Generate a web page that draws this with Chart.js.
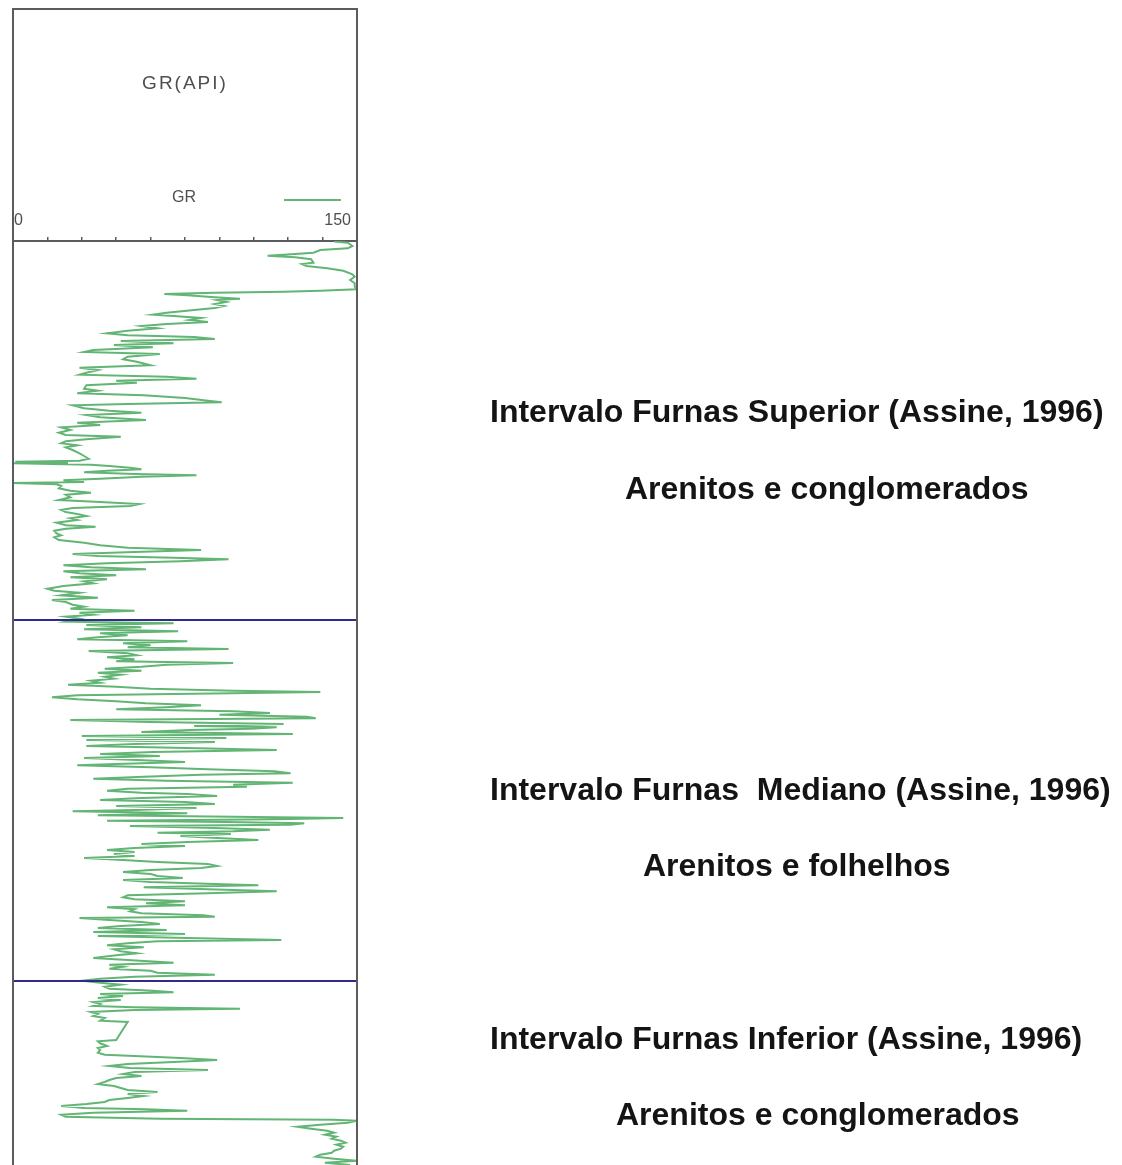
<!DOCTYPE html>
<html>
<head>
<meta charset="utf-8">
<title>GR – Intervalos Furnas</title>
<script src="https://cdn.jsdelivr.net/npm/chart.js@4.4.1/dist/chart.umd.min.js"></script>
<style>
  html, body { margin: 0; padding: 0; background: #ffffff; }
  #wrap { position: relative; width: 1122px; height: 1165px; overflow: hidden; }
  canvas { display: block; }
</style>
</head>
<body>
<div id="wrap"><canvas id="log" width="1122" height="1165"></canvas></div>
<script>
// ---- Gamma-ray log (API), depth in relative units from the top of the track ----
// Upper interval (Furnas Superior)
const upperDepth = [0.5,1.7,5,7.3,9,11.7,13,14.7,16.3,18.3,21.7,23,25,27.3,29.7,33.3,35.7,39,42.3,45.7,48.3,49.7,50.7,51.7,53,54.3,56.3,57.7,59,61,63,65,67,69,71.7,73.7,75,77,79,81,83,85,87.3,89.7,92.3,94.3,96,98,100,102.3,104,106.3,109,111,113,115.7,118.3,120.7,124.3,126.7,129,131.7,133.7,135.7,137.7,139.7,141.7,144.3,147.7,149.7,152.3,154.3,157,159.7,161.3,163,164.3,167.3,169.7,171.7,174,176.3,179,
  181.7,184,186.3,189,191.7,194,195.7,198.3,200.3,202.3,204.3,206.3,209,212.3,215,217.7,219.7,220.7,221.7,222.3,223.7,225,226.7,228.3,229.7,231.3,233,234.3,235.7,237.7,239.3,241,242,243.3,245,247.3,249.7,251.7,253.7,256.3,259,261,263,265,267,269,271,273,275,277.3,279,281.7,284.3,285.7,287.7,289.7,292.3,294.3,296.3,299,301.7,304.3,306.7,309,311,313,315,316.7,318.3,320.3,322.3,324.3,326.3,328.3,330.3,332.3,334.3,336.3,338.3,340.3,342.3,345,347.7,349.7,351.7,354.3,356.7,359,361,363.7,365.7,367.7,369.7,371.7,373.7,375.7,377.7];
const upperGR = [140,146,148,146,134,131,123,111,123,130,131,126,128,137,144,148,149,147,149,149,150,134,118,88,66,76,88,99,89,93,88,92,88,79,67,61,70,82,77,85,67,56,63,50,41,50,79,88,47,70,44,61,35,31,64,50,48,54,60,29,37,32,29,67,80,45,54,32,31,37,28,57,75,85,91,50,26,31,42,56,32,38,58,
  28,38,21,25,20,23,47,32,23,21,28,23,26,29,31,33,29,1,24,0,34,42,51,56,41,31,53,80,56,38,22,31,0,19,21,20,25,34,23,25,20,38,55,51,26,21,23,28,32,25,28,19,23,36,23,18,19,21,18,20,31,38,50,82,53,26,37,70,94,73,41,22,34,58,22,29,45,25,41,31,35,22,15,18,29,21,37,17,23,26,31,25,53,29,35,23,29];

// Middle interval (Furnas Mediano)
const middleDepth = [380.7,382.3,384,386.3,388.3,390.3,392.3,394.3,396.3,398.3,400.3,402.3,404.3,406.3,408,410,412.3,414.3,416.3,418.3,420.3,422,423.7,425.7,427.7,429.7,431.7,433.7,435.7,437.7,439.7,441.7,443.7,445.7,447.7,449.7,451,452.3,454.3,456.3,458.3,460.3,462.3,464.3,466.3,468.3,470.3,472,473.7,475.7,477.3,479,481,483,485,486.3,487.7,489,491,493,495,497,499,501,503,505,507,509,511,513,515,517,519,521,523,524.3,526.3,528.3,530.3,532.3,533.7,535.7,537.7,539.7,541.7,543.7,545.7,547.7,549.7,551.7,553,555,557,559,
  561,563,565,567,569,570.3,572.3,574.3,575.7,577,578.3,579.7,581,582.3,583.7,585,587,588.7,590.3,591.7,593,595,597,599,601,603,605,607,609,611,613,615,617,619,621,623,625,627,629,631,633,635,637,639,641,643,644.3,646.3,648.3,650.3,652.3,654.3,656.3,658.3,660.3,662.3,664.3,666.3,668.3,670.3,672.3,674.3,675.7,677,679,681,683,685,687,689,691,693,695,697,699,700.3,702.3,704.3,706.3,708.3,710.3,712.3,714.3,717,719,721.7,723.7,725.7,727.7,729.7,731.7,733.7,735.7,737.7,739.7];
const middleGR = [23,70,32,56,31,72,38,50,37,28,76,48,60,50,94,33,50,54,41,53,45,96,67,56,40,56,37,47,40,44,34,38,24,45,60,96,134,95,28,17,28,45,58,82,67,45,96,112,90,128,132,25,60,118,79,115,104,77,56,122,30,93,32,88,53,32,76,115,61,38,64,31,54,75,45,28,60,85,114,121,82,57,35,67,122,96,102,50,41,56,76,89,56,38,
  75,88,45,80,53,26,76,37,96,144,114,41,93,127,121,51,88,112,96,63,95,73,89,107,76,56,75,53,41,53,44,53,31,48,63,85,89,82,60,48,60,63,74,48,60,88,107,57,85,115,85,50,48,53,75,58,75,41,53,51,56,83,88,29,42,56,64,47,37,67,35,75,37,76,117,63,50,41,57,44,47,54,45,35,50,70,42,48,42,60,63,88,53,38,30];

// Lower interval (Furnas Inferior)
const lowerDepth = [741.7,743.7,745.7,747.7,749.7,751.3,753,755,757,759,761,763,765,766.3,767.7,769,771,773,775,777,779.7,781,799,800.3,802.3,805,807,809,811.7,813.7,815,817,819,821,823,825,827,829,831,833,835,837,839,841,843,845,847,849,851,853,855,857,859,861,863,865,867,868.3,869.7,871.7,873.7,875.7,877.7,878.7,879.7,881.7,883.7,885.7,887.7,889.7,891.7,893.7,895.7,897.7,899.7,901.7,903.7,905.7,907.7,909.7,911.7,913.7,915.7,917.7,919.7,921.7,924];
const lowerGR = [38,47,40,42,61,70,38,48,37,47,35,38,35,53,99,53,34,37,35,40,38,50,45,37,38,41,37,38,37,40,53,73,89,70,50,42,51,85,53,48,56,45,42,40,37,44,47,50,63,50,57,50,42,40,32,21,31,58,76,35,21,23,64,140,150,146,134,124,130,137,140,136,141,139,143,145,141,144,143,140,139,134,132,140,150,136,147];

// Interval tops (same depth units) and track scale
const intervalTops = [379, 740];
const grScale = [0, 150];
const depthRange = [0, 924];

// Texts
const trackTitle = 'GR(API)';
const curveName = 'GR';
const intervalNames = [
  'Intervalo Furnas Superior (Assine, 1996)',
  'Intervalo Furnas  Mediano (Assine, 1996)',
  'Intervalo Furnas Inferior (Assine, 1996)'
];
const intervalLithology = [
  'Arenitos e conglomerados',
  'Arenitos e folhelhos',
  'Arenitos e conglomerados'
];

// ---- build datasets ----
const allDepth = upperDepth.concat(middleDepth, lowerDepth);
const allGR = upperGR.concat(middleGR, lowerGR);
const grPoints = allDepth.map((d, i) => ({ x: allGR[i], y: d }));

const CURVE_COLOR = '#62b574';
const TOP_COLOR = '#302b8a';
const FRAME_COLOR = '#5c5c5c';
const HEADER_TEXT = '#4f4f4f';

const topDatasets = intervalTops.map(t => ({
  label: 'topo',
  data: [{ x: grScale[0], y: t }, { x: grScale[1], y: t }],
  showLine: true,
  borderColor: TOP_COLOR,
  borderWidth: 2.2,
  pointRadius: 0,
  order: 0
}));

// header, frame and interval descriptions
const logDecor = {
  id: 'logDecor',
  afterDraw(chart) {
    const { ctx, chartArea: a, scales } = chart;
    const xs = scales.x, ys = scales.y;
    const headerTop = 9;
    ctx.save();

    // track frame
    ctx.strokeStyle = FRAME_COLOR;
    ctx.lineWidth = 2;
    ctx.beginPath();
    ctx.moveTo(a.left, chart.height + 2);
    ctx.lineTo(a.left, headerTop);
    ctx.lineTo(a.right, headerTop);
    ctx.lineTo(a.right, chart.height + 2);
    ctx.stroke();

    const mid = (a.left + a.right) / 2;

    // track title
    ctx.fillStyle = HEADER_TEXT;
    ctx.textAlign = 'center';
    ctx.textBaseline = 'middle';
    ctx.font = '19px "Liberation Sans", Arial, sans-serif';
    if ('letterSpacing' in ctx) ctx.letterSpacing = '2px';
    ctx.fillText(trackTitle, mid, 84);
    if ('letterSpacing' in ctx) ctx.letterSpacing = '0px';

    // curve legend
    ctx.font = '16px "Liberation Sans", Arial, sans-serif';
    ctx.fillText(curveName, mid - 1, 198);
    ctx.strokeStyle = CURVE_COLOR;
    ctx.lineWidth = 1.8;
    ctx.beginPath();
    ctx.moveTo(284, 200);
    ctx.lineTo(341, 200);
    ctx.stroke();

    // scale ends
    ctx.fillStyle = HEADER_TEXT;
    ctx.textBaseline = 'middle';
    ctx.textAlign = 'left';
    ctx.fillText(String(grScale[0]), xs.getPixelForValue(grScale[0]) + 1, 221);
    ctx.textAlign = 'right';
    ctx.fillText(String(grScale[1]), xs.getPixelForValue(grScale[1]) - 6, 221);

    // interval descriptions
    ctx.fillStyle = '#141414';
    ctx.font = 'bold 32px "Liberation Sans", Arial, sans-serif';
    ctx.textAlign = 'left';
    ctx.textBaseline = 'alphabetic';
    const rows = [
      { t: intervalNames[0], x: 490, d: 169 },
      { t: intervalLithology[0], x: 625, d: 246 },
      { t: intervalNames[1], x: 490, d: 547 },
      { t: intervalLithology[1], x: 643, d: 623 },
      { t: intervalNames[2], x: 490, d: 796 },
      { t: intervalLithology[2], x: 616, d: 872 }
    ];
    rows.forEach(r => {
      ctx.fillText(r.t, r.x, ys.getPixelForValue(r.d) + 11.5);
    });
    ctx.restore();
  }
};

new Chart(document.getElementById('log'), {
  type: 'scatter',
  data: {
    datasets: [
      {
        label: curveName,
        data: grPoints,
        showLine: true,
        borderColor: CURVE_COLOR,
        borderWidth: 2,
        pointRadius: 0,
        tension: 0,
        order: 1
      },
      ...topDatasets
    ]
  },
  options: {
    responsive: false,
    animation: false,
    devicePixelRatio: 1,
    layout: { padding: { left: 13, right: 1122 - 357, top: 241, bottom: 0 } },
    plugins: { legend: { display: false }, tooltip: { enabled: false } },
    scales: {
      x: {
        type: 'linear',
        position: 'top',
        min: grScale[0],
        max: grScale[1],
        ticks: { display: false, stepSize: 15 },
        grid: { drawOnChartArea: false, drawTicks: true, tickLength: 4, color: FRAME_COLOR, lineWidth: 1.5 },
        border: { display: true, color: FRAME_COLOR, width: 2 },
        afterFit(scale) { scale.height = 0; }
      },
      y: {
        type: 'linear',
        reverse: true,
        min: depthRange[0],
        max: depthRange[1],
        display: false
      }
    }
  },
  plugins: [logDecor]
});
</script>
</body>
</html>
